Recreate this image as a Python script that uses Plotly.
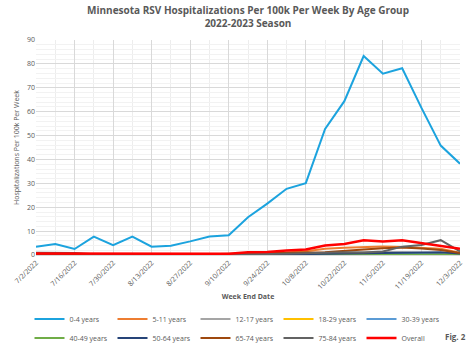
import plotly.graph_objects as go
import pandas as pd

weeks = pd.date_range("2022-07-02", "2022-12-03", freq="7D")
tick_dates = weeks[::2]
tick_labels = [f"{d.month}/{d.day}/{d.year}" for d in tick_dates]

series_names = ["0-4 years", "5-11 years", "12-17 years", "18-29 years", "30-39 years",
                "40-49 years", "50-64 years", "65-74 years", "75-84 years", "Overall"]

age_0_4 = [3.5, 4.6, 2.5, 7.7, 4.1, 7.7, 3.5, 3.9, 5.7, 7.7, 8.3, 15.8, 21.5, 27.7, 30.1,
           52.8, 64.4, 83.3, 75.9, 78.2, 61.6, 45.8, 38.2]
age_5_11 = [0.2, 0.2, 0.1, 0.1, 0.1, 0.1, 0.1, 0.1, 0.2, 0.2, 0.3, 0.6, 0.7, 1.0, 1.6,
            2.6, 3.0, 3.4, 3.6, 3.4, 3.1, 2.6, 0.9]
age_12_17 = [0.1, 0.1, 0.1, 0.1, 0.1, 0.1, 0.1, 0.1, 0.1, 0.1, 0.2, 0.3, 0.4, 0.4, 0.6,
             0.8, 1.0, 1.2, 1.3, 1.1, 1.0, 0.8, 0.5]
age_18_29 = [0.1, 0.1, 0.1, 0.1, 0.1, 0.1, 0.1, 0.1, 0.1, 0.1, 0.1, 0.2, 0.2, 0.3, 0.3,
             0.4, 0.5, 0.4, 0.5, 0.4, 0.3, 0.3, 0.2]
age_30_39 = [0.1, 0.1, 0.1, 0.1, 0.1, 0.1, 0.1, 0.1, 0.1, 0.1, 0.1, 0.1, 0.2, 0.2, 0.3,
             0.3, 0.4, 0.4, 0.4, 0.5, 0.4, 0.3, 0.2]
age_40_49 = [0.1, 0.1, 0.1, 0.1, 0.1, 0.1, 0.1, 0.1, 0.1, 0.1, 0.1, 0.1, 0.1, 0.2, 0.2,
             0.2, 0.3, 0.3, 0.3, 0.3, 0.3, 0.2, 0.2]
age_50_64 = [0.2, 0.2, 0.2, 0.1, 0.1, 0.1, 0.1, 0.1, 0.1, 0.1, 0.2, 0.2, 0.3, 0.3, 0.4,
             0.5, 0.6, 0.7, 0.8, 0.9, 1.0, 1.2, 0.6]
age_65_74 = [0.5, 0.6, 0.5, 0.3, 0.2, 0.2, 0.2, 0.2, 0.2, 0.3, 0.3, 0.5, 0.6, 0.8, 1.0,
             1.2, 1.6, 2.3, 2.8, 3.1, 2.7, 2.1, 0.8]
age_75_84 = [0.9, 0.9, 0.8, 0.3, 0.2, 0.1, 0.1, 0.1, 0.2, 0.1, 0.2, 0.3, 0.3, 0.5, 0.7,
             1.0, 1.2, 1.0, 1.5, 3.5, 4.2, 6.2, 1.5]
overall = [0.6, 0.6, 0.5, 0.4, 0.3, 0.3, 0.3, 0.3, 0.4, 0.4, 0.5, 1.1, 1.3, 1.9, 2.3,
           4.0, 4.6, 6.2, 5.6, 6.2, 4.9, 3.8, 2.6]

series_values = [age_0_4, age_5_11, age_12_17, age_18_29, age_30_39,
                 age_40_49, age_50_64, age_65_74, age_75_84, overall]
colors = ["#1CA3DE", "#ED7D31", "#A5A5A5", "#FFC000", "#5B9BD5",
          "#70AD47", "#264478", "#9E480E", "#636363", "#FF0000"]
widths = [2, 2, 2, 2, 2, 2, 2, 2, 2, 2.5]

fig = go.Figure()
for name, vals, c, w in zip(series_names, series_values, colors, widths):
    fig.add_trace(go.Scatter(x=weeks, y=vals, mode="lines", name=name,
                             line=dict(color=c, width=w)))

txt = "#595959"
fig.update_layout(
    width=474, height=344,
    margin=dict(l=36, r=14, t=40, b=89, autoexpand=False),
    paper_bgcolor="white", plot_bgcolor="white",
    font=dict(family="Open Sans", color=txt, size=7),
    legend=dict(orientation="h", x=0.5, xanchor="center", xref="container",
                y=0.115, yanchor="top", yref="container",
                font=dict(size=7, color=txt), entrywidth=38, entrywidthmode="pixels",
                itemwidth=30, tracegroupgap=0, traceorder="normal"),
    showlegend=True,
)
fig.add_annotation(text="<b>Minnesota RSV Hospitalizations Per 100k Per Week By Age Group<br>2022-2023 Season</b>",
                   xref="paper", yref="paper", x=0.5, y=1, xanchor="center", yanchor="bottom",
                   yshift=8, showarrow=False, font=dict(size=10, color=txt))
fig.update_xaxes(
    type="date", range=[weeks[0], weeks[-1]], automargin=False,
    tickmode="array", tickvals=tick_dates, ticktext=tick_labels,
    tickangle=-45, tickfont=dict(size=7, color=txt),
    showgrid=True, gridcolor="#D9D9D9", gridwidth=1,
    minor=dict(dtick=7 * 86400000, tick0="2022-07-02", showgrid=True, gridcolor="#EDEDED"),
    showline=True, linecolor="#D9D9D9", ticks="",
    title=dict(text="<b>Week End Date</b>", font=dict(size=7, color=txt), standoff=4),
)
fig.update_yaxes(
    range=[0, 90], dtick=10, tickfont=dict(size=7, color=txt), automargin=False,
    showgrid=True, gridcolor="#D9D9D9", gridwidth=1,
    minor=dict(dtick=2, showgrid=True, gridcolor="#F2F2F2"),
    zeroline=False, ticks="",
    title=dict(text="Hospitalizations Per 100k Per Week", font=dict(size=7, color=txt), standoff=6),
)
fig.add_annotation(text="<b>Fig. 2</b>", xref="paper", yref="paper", x=1.02, y=0,
                   xanchor="right", yanchor="middle", showarrow=False,
                   font=dict(size=8, color=txt), yshift=-81)
fig.write_html("out.html")
